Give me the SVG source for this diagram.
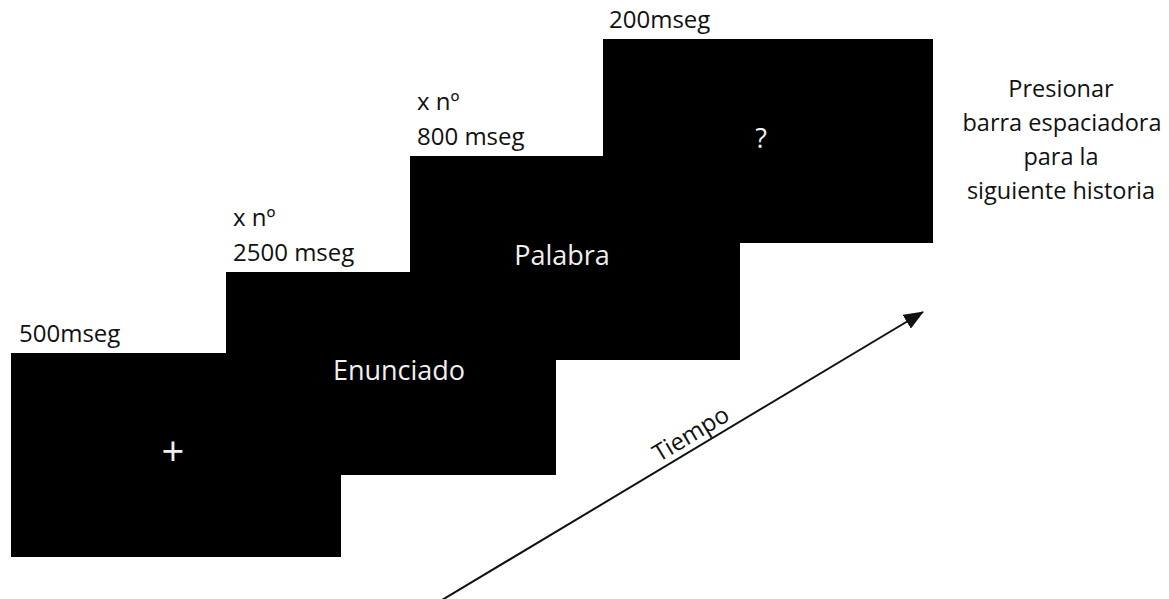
<svg xmlns="http://www.w3.org/2000/svg" width="1169" height="599" viewBox="0 0 1169 599">
  <style>
    .screen { fill: #000; }
    .lbl { font-family: "Open Sans", "Liberation Sans", sans-serif; font-size: 24px; fill: #111; }
    .inner { font-family: "Open Sans", "Liberation Sans", sans-serif; font-size: 27px; fill: #f0f0f0; text-anchor: middle; }
    .note { font-family: "Open Sans", "Liberation Sans", sans-serif; font-size: 23.5px; fill: #111; text-anchor: middle; }
    .conn { stroke: #111; stroke-width: 2; fill: none; }
  </style>
  <defs>
    <marker id="arrowhead" viewBox="0 0 20 16" refX="19" refY="8" markerWidth="20" markerHeight="16" markerUnits="userSpaceOnUse" orient="auto">
      <path d="M0,0 L20,8 L0,16 z" fill="#111"/>
    </marker>
  </defs>

  <rect width="1169" height="599" fill="#fff"/>

  <g id="screen-fixation">
    <rect class="screen" x="11" y="353" width="330" height="204"/>
    <text class="lbl" x="19" y="342">500mseg</text>
    <text class="inner" x="173" y="466" style="font-size:40px">+</text>
  </g>

  <g id="screen-enunciado">
    <rect class="screen" x="226" y="272" width="330" height="203"/>
    <text class="lbl" x="233" y="226">x nº</text>
    <text class="lbl" x="233" y="261">2500 mseg</text>
    <text class="inner" x="399" y="380">Enunciado</text>
  </g>

  <g id="screen-palabra">
    <rect class="screen" x="410" y="156" width="330" height="204"/>
    <text class="lbl" x="417" y="110">x nº</text>
    <text class="lbl" x="417" y="145">800 mseg</text>
    <text class="inner" x="562" y="265">Palabra</text>
  </g>

  <g id="screen-pregunta">
    <rect class="screen" x="603" y="39" width="330" height="204"/>
    <text class="lbl" x="609" y="28">200mseg</text>
    <text class="inner" x="761" y="148">?</text>
  </g>

  <g id="instruccion">
    <text class="note" x="1061" y="97">Presionar</text>
    <text class="note" x="1062" y="131">barra espaciadora</text>
    <text class="note" x="1061" y="165">para la</text>
    <text class="note" x="1061" y="199">siguiente historia</text>
  </g>

  <g id="connectors">
    <line class="conn" x1="442" y1="600" x2="923" y2="312" marker-end="url(#arrowhead)"/>
    <text class="lbl" transform="translate(695,441) rotate(-30.9)" text-anchor="middle" style="font-size:24px">Tiempo</text>
  </g>
</svg>
